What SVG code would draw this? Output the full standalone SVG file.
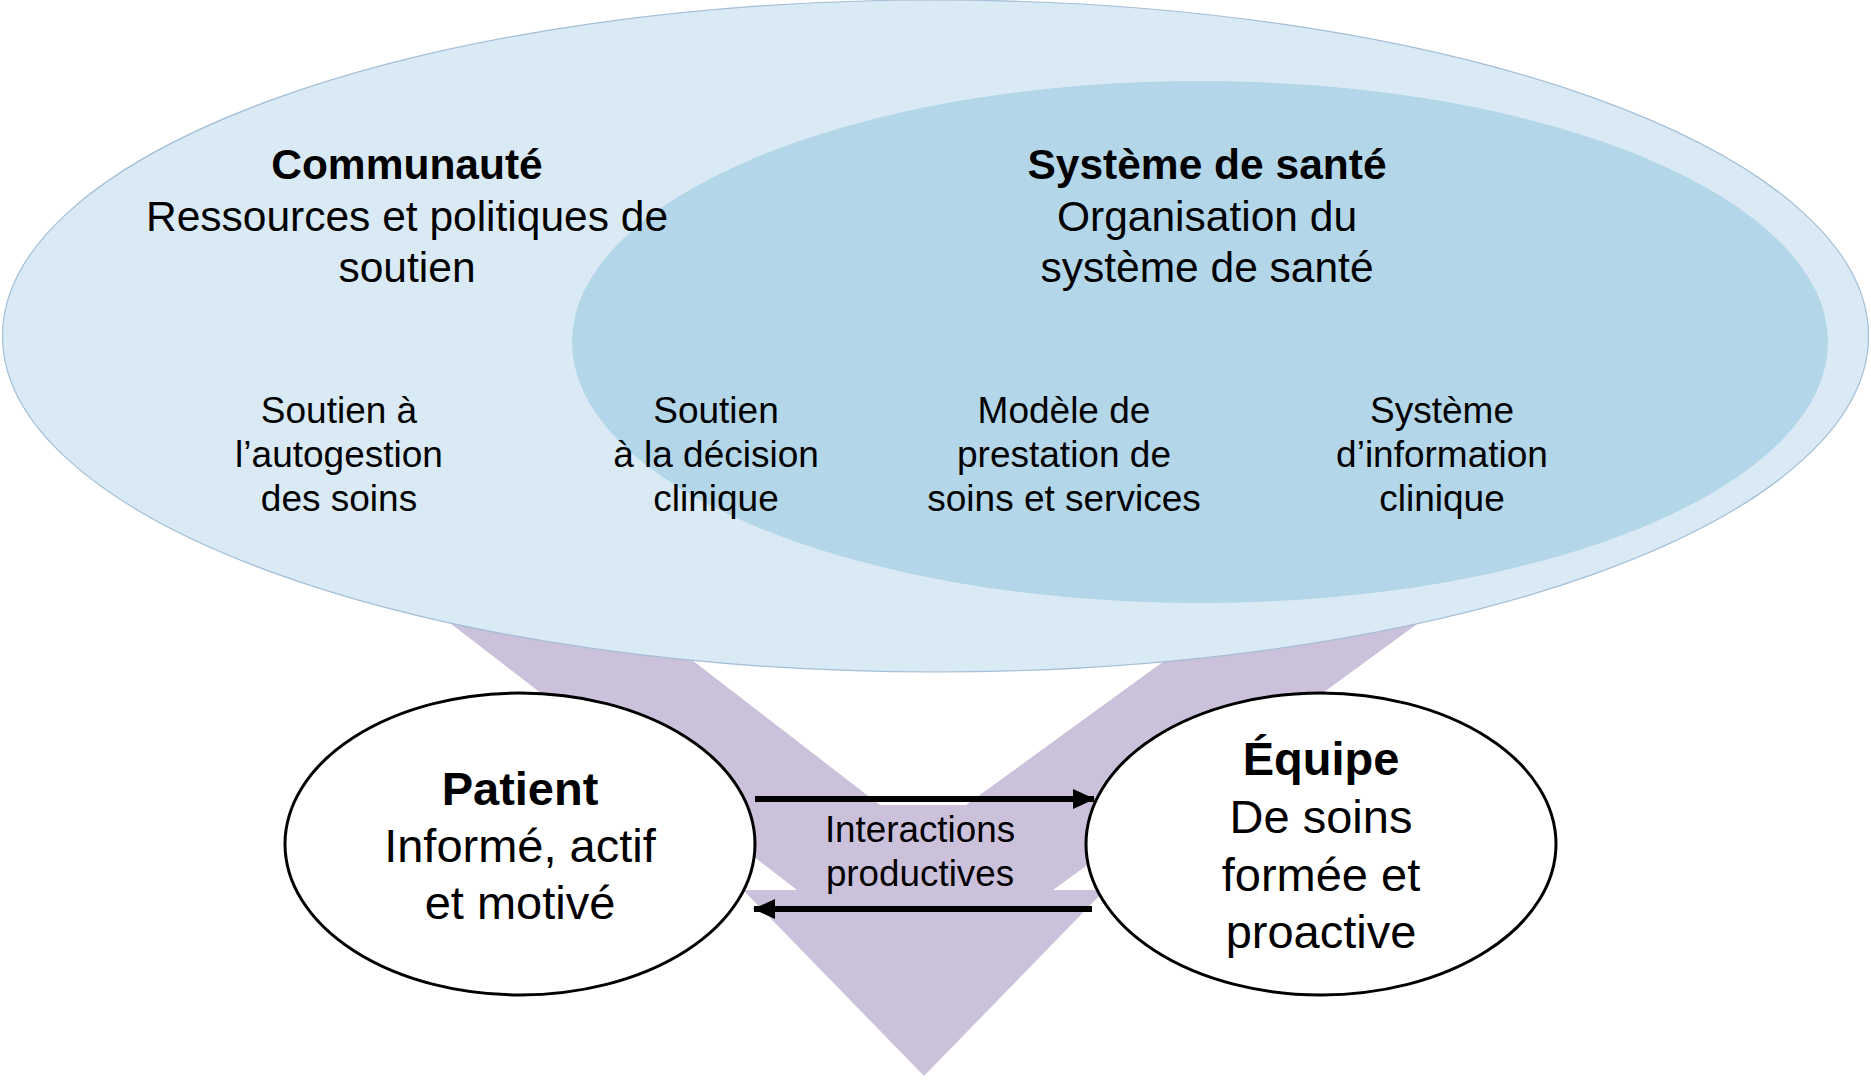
<svg xmlns="http://www.w3.org/2000/svg" width="1871" height="1081" viewBox="0 0 1871 1081">
<style>
text{font-family:"Liberation Sans",Arial,sans-serif;fill:#000;text-anchor:middle}
.h{font-size:42.5px;font-weight:bold}
.s{font-size:42.5px}
.c{font-size:37px}
.n{font-size:47px}
.nb{font-size:47px;font-weight:bold}
.i{font-size:36.8px}
.node{fill:#fff;stroke:#000;stroke-width:3}
.conn{stroke:#000;stroke-width:6;fill:none}
</style>
<defs>
<marker id="ah" markerUnits="userSpaceOnUse" viewBox="0 0 22 20" refX="21" refY="10" markerWidth="22" markerHeight="20" orient="auto">
<path d="M0,0 L22,10 L0,20 Z" fill="#000"/>
</marker>
</defs>
<rect width="1871" height="1081" fill="#fff"/>
<g id="band">
<path d="M420,600 L797,890 L743,890 L924,1076 L1105,890 L1053,890 L1450,600 L1248,600 L966,805 L880,805 L614,600 Z" fill="#cbc1db"/>
</g>
<g id="communaute">
<ellipse cx="935.5" cy="336" rx="933" ry="336" fill="#daeaf4" stroke="#a3bed6" stroke-width="1.2"/>
</g>
<g id="systeme-sante">
<ellipse cx="1200" cy="342" rx="628" ry="261" fill="#b3d6e8"/>
</g>
<g id="labels-top">
<text class="h" x="407" y="179">Communauté</text>
<text class="s" x="407" y="231">Ressources et politiques de</text>
<text class="s" x="407" y="282">soutien</text>
<text class="h" x="1207" y="179">Système de santé</text>
<text class="s" x="1207" y="231">Organisation du</text>
<text class="s" x="1207" y="282">système de santé</text>
</g>
<g id="autogestion">
<text class="c" x="339" y="423">Soutien à</text>
<text class="c" x="339" y="467">l’autogestion</text>
<text class="c" x="339" y="511">des soins</text>
</g>
<g id="decision">
<text class="c" x="716" y="423">Soutien</text>
<text class="c" x="716" y="467">à la décision</text>
<text class="c" x="716" y="511">clinique</text>
</g>
<g id="prestation">
<text class="c" x="1064" y="423">Modèle de</text>
<text class="c" x="1064" y="467">prestation de</text>
<text class="c" x="1064" y="511">soins et services</text>
</g>
<g id="information">
<text class="c" x="1442" y="423">Système</text>
<text class="c" x="1442" y="467">d’information</text>
<text class="c" x="1442" y="511">clinique</text>
</g>
<g id="patient">
<ellipse class="node" cx="520" cy="844" rx="235" ry="151"/>
<text class="nb" x="520" y="805">Patient</text>
<text class="n" x="520" y="862">Informé, actif</text>
<text class="n" x="520" y="919">et motivé</text>
</g>
<g id="equipe">
<ellipse class="node" cx="1321" cy="844" rx="235" ry="151"/>
<text class="nb" x="1321" y="775">Équipe</text>
<text class="n" x="1321" y="833">De soins</text>
<text class="n" x="1321" y="891">formée et</text>
<text class="n" x="1321" y="948">proactive</text>
</g>
<g id="connectors">
<line class="conn" x1="755" y1="799" x2="1094" y2="799" marker-end="url(#ah)"/>
<line class="conn" x1="1092" y1="909" x2="754" y2="909" marker-end="url(#ah)"/>
<text class="i" x="920" y="842">Interactions</text>
<text class="i" x="920" y="886">productives</text>
</g>
</svg>
